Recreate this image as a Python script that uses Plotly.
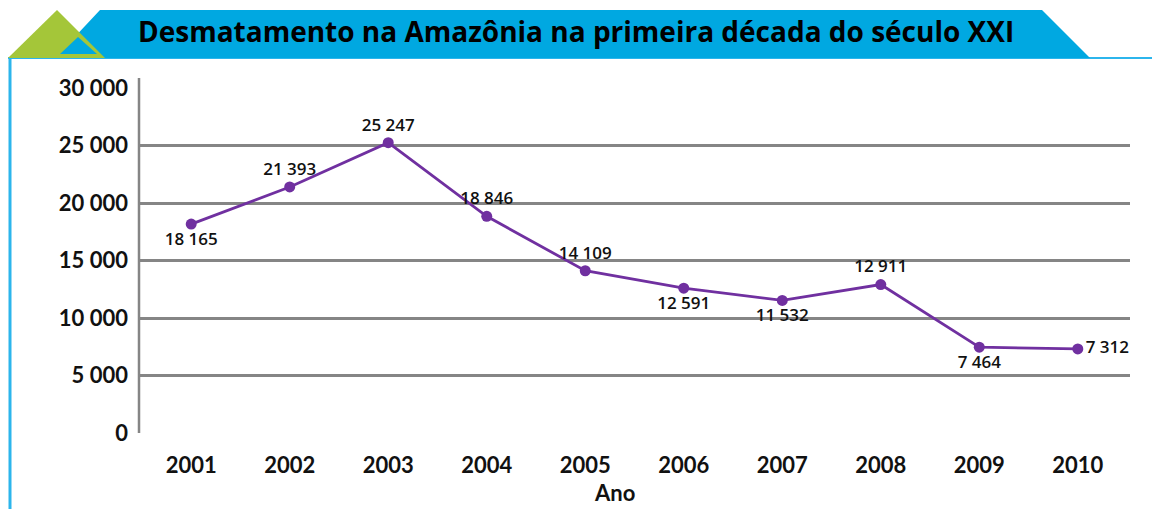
import plotly.graph_objects as go

# ---- data ----
years = ["2001", "2002", "2003", "2004", "2005", "2006", "2007", "2008", "2009", "2010"]
deforestation_km2 = [18165, 21393, 25247, 18846, 14109, 12591, 11532, 12911, 7464, 7312]
point_labels = ["18 165", "21 393", "25 247", "18 846", "14 109", "12 591", "11 532", "12 911", "7 464", "7 312"]
label_positions = ["bottom center", "top center", "top center", "top center", "top center",
                   "bottom center", "bottom center", "top center", "bottom center", "middle right"]
y_tick_values = [0, 5000, 10000, 15000, 20000, 25000, 30000]
y_tick_labels = ["0", "5 000", "10 000", "15 000", "20 000", "25 000", "30 000"]
title_text = "Desmatamento na Amazônia na primeira década do século XXI"
x_title = "Ano"

# ---- layout geometry ----
W, H = 1152, 509
L, R, T, B = 139, 22, 88, 76
PW, PH = W - L - R, H - T - B


def px(x):
    return (x - L) / PW


def py(y):
    return (H - B - y) / PH


def path(points):
    return "M " + " L ".join(f"{px(a):.5f},{py(b):.5f}" for a, b in points) + " Z"


PURPLE = "#7030a0"
BLUE = "#00a8e1"
GREEN = "#a4c639"
FRAME = "#2cb5ec"
GRID = "#858585"

fig = go.Figure()
fig.add_trace(go.Scatter(
    x=years, y=deforestation_km2,
    mode="lines+markers+text",
    line=dict(color=PURPLE, width=2.8),
    marker=dict(color=PURPLE, size=11),
    text=point_labels,
    textposition=label_positions,
    textfont=dict(family="Open Sans", size=17, color="#111111", weight=600),
    cliponaxis=False,
    hoverinfo="skip",
))

shapes = [
    # frame lines (top and left)
    dict(type="line", xref="paper", yref="paper", x0=px(8), x1=px(W), y0=py(58), y1=py(58),
         line=dict(color=FRAME, width=2), layer="below"),
    dict(type="line", xref="paper", yref="paper", x0=px(10), x1=px(10), y0=py(58), y1=py(H),
         line=dict(color=FRAME, width=3), layer="below"),
    # blue banner
    dict(type="path", xref="paper", yref="paper",
         path=path([(100, 10), (1042, 10), (1090, 58), (55, 58)]),
         fillcolor=BLUE, line=dict(width=0), layer="below"),
    # green triangle
    dict(type="path", xref="paper", yref="paper",
         path=path([(57, 10), (105, 58), (8, 58)]),
         fillcolor=GREEN, line=dict(width=0), layer="below"),
    # inner blue triangle with green outline
    dict(type="path", xref="paper", yref="paper",
         path=path([(78, 37), (97, 54), (60, 54)]),
         fillcolor=BLUE, line=dict(width=0), layer="below"),
    # y axis line extending slightly above the top gridline
    dict(type="line", xref="paper", yref="paper", x0=0, x1=0, y0=0, y1=py(78),
         line=dict(color=GRID, width=2.5), layer="below"),
]

fig.update_layout(
    width=W, height=H,
    margin=dict(l=L, r=R, t=T, b=B, pad=0),
    paper_bgcolor="white", plot_bgcolor="white",
    showlegend=False,
    shapes=shapes,
    annotations=[
        dict(text=f"<b>{title_text}</b>", xref="paper", yref="paper",
             x=px(576), y=py(31), xanchor="center", yanchor="middle",
             showarrow=False, font=dict(family="Open Sans", size=28, color="#000000")),
        dict(text=f"<b>{x_title}</b>", xref="paper", yref="paper",
             x=px(614), y=py(493), xanchor="center", yanchor="middle",
             showarrow=False, font=dict(family="Lato", size=22, color="#111111")),
    ],
    xaxis=dict(
        type="category", range=[-0.53, 9.53],
        showgrid=False, zeroline=False, showline=False, ticks="",
        tickfont=dict(family="Lato", size=22, color="#111111", weight="bold"),
        ticklabelstandoff=17,
    ),
    yaxis=dict(
        range=[0, 30000], tickvals=y_tick_values, ticktext=y_tick_labels,
        showgrid=True, gridcolor=GRID, gridwidth=2.5,
        zeroline=False, showline=False,
        ticks="", ticklabelstandoff=10,
        tickfont=dict(family="Lato", size=22, color="#111111", weight="bold"),
    ),
)

fig.write_html("out.html")
